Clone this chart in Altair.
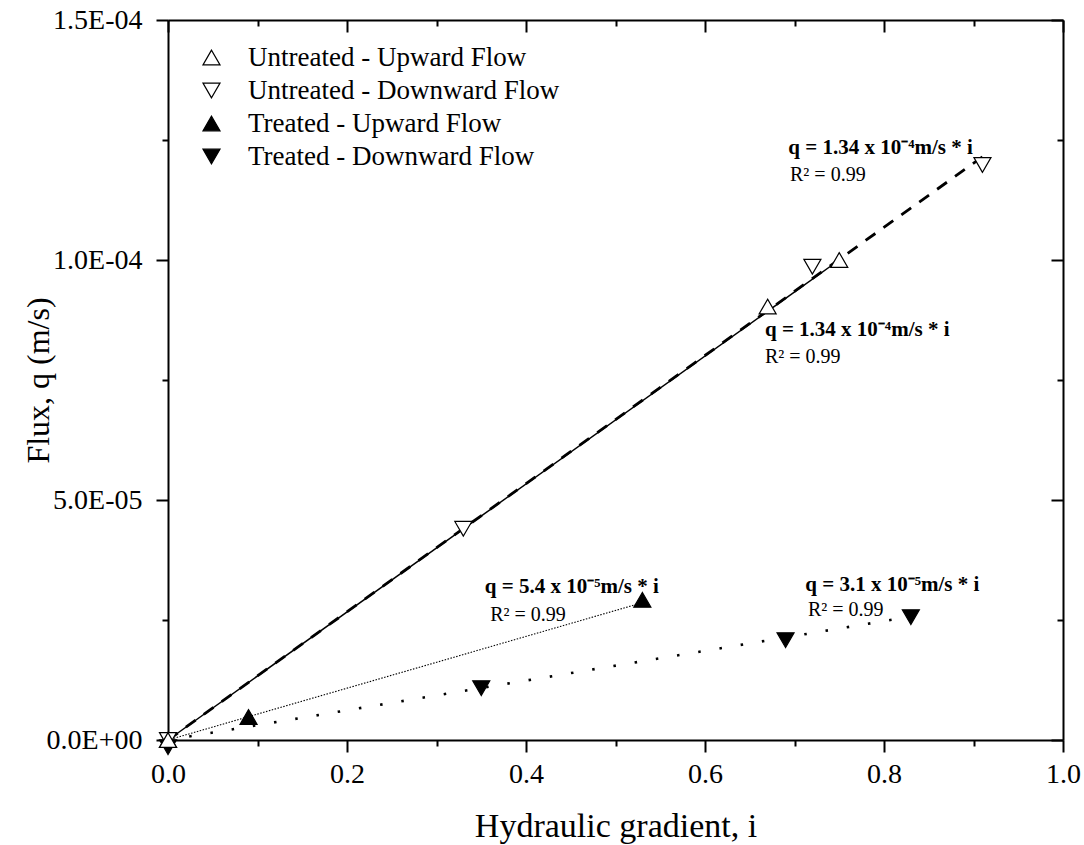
import altair as alt
import pandas as pd

FONT = "Liberation Serif"

series_names = ["Untreated - Upward Flow", "Untreated - Downward Flow",
                "Treated - Upward Flow", "Treated - Downward Flow"]
series_shapes = ["triangle-up", "triangle-down", "triangle-up", "triangle-down"]
series_fills = ["white", "white", "black", "black"]
series_strokes = ["black", "black", "black", "black"]

# measured points (i, q)
uu_i = [0.0, 0.67, 0.75]
uu_q = [0.0, 9.03e-5, 1.0e-4]
ud_i = [0.0, 0.33, 0.72, 0.91]
ud_q = [0.0, 4.4e-5, 9.86e-5, 1.198e-4]
tu_i = [0.0, 0.09, 0.53]
tu_q = [0.0, 4.8e-6, 2.92e-5]
td_i = [0.0, 0.35, 0.69, 0.83]
td_q = [-1.5e-6, 1.08e-5, 2.08e-5, 2.56e-5]

# fitted lines: start and end (i, q)
fit_i0 = [0.0, 0.0, 0.0, 0.0]
fit_q0 = [0.0, 0.0, 0.0, 0.0]
fit_i1 = [0.75, 0.91, 0.53, 0.83]
fit_q1 = [1.0e-4, 1.215e-4, 2.86e-5, 2.57e-5]

# annotation texts
eq_texts = ["q = 1.34 x 10⁻⁴m/s * i", "q = 1.34 x 10⁻⁴m/s * i",
            "q = 5.4 x 10⁻⁵m/s * i", "q = 3.1 x 10⁻⁵m/s  * i"]
eq_i = [0.693, 0.667, 0.354, 0.712]
eq_q = [1.233e-4, 8.54e-5, 3.19e-5, 3.23e-5]
r2_texts = ["R² = 0.99", "R² = 0.99", "R² = 0.99", "R² = 0.99"]
r2_i = [0.695, 0.667, 0.36, 0.715]
r2_q = [1.177e-4, 7.98e-5, 2.6e-5, 2.71e-5]

x_major = [0.0, 0.2, 0.4, 0.6, 0.8, 1.0]
x_minor = [0.1, 0.3, 0.5, 0.7, 0.9]
y_major = [0.0, 5.0e-5, 1.0e-4, 1.5e-4]
y_minor = [2.5e-5, 7.5e-5, 1.25e-4]

W, H = 895, 720

# ---------- tables ----------
rows = []
for name, xs_, qs_ in [(series_names[3], td_i, td_q), (series_names[2], tu_i, tu_q),
                       (series_names[1], ud_i, ud_q), (series_names[0], uu_i, uu_q)]:
    for a, b in zip(xs_, qs_):
        rows.append({"series": name, "i": a, "q": b})
pts = pd.DataFrame(rows)

xs = alt.Scale(domain=[0, 1], nice=False, zero=False)
ys = alt.Scale(domain=[0, 1.5e-4], nice=False, zero=False)

ylab = ("datum.value == 0 ? '0.0E+00' : "
        "format(datum.value / pow(10, floor(log(datum.value)/LN10 + 1e-9)), '.1f') + 'E' + "
        "(floor(log(datum.value)/LN10 + 1e-9) < 0 ? '-' : '+') + "
        "(abs(floor(log(datum.value)/LN10 + 1e-9)) < 10 ? '0' : '') + "
        "abs(floor(log(datum.value)/LN10 + 1e-9))")

common = dict(domainColor="black", tickColor="black", domainWidth=2, tickWidth=2,
              grid=False, labelFont=FONT, labelColor="black", titleFont=FONT,
              titleColor="black", titleFontWeight="normal")

ax_bottom_major = alt.Axis(orient="bottom", values=x_major, format=".1f", tickSize=12,
                           labelFontSize=28, labelPadding=8, labelFlush=False,
                           labelOverlap=False,
                           title="Hydraulic gradient, i", titleFontSize=34,
                           titleX=W / 2, titleY=86, titleBaseline="middle",
                           titleAlign="center", **common)
ax_bottom_minor = alt.Axis(orient="bottom", values=x_minor, tickSize=6, labels=False,
                           domain=False, title=None, **common)
ax_top_major = alt.Axis(orient="bottom", offset=-H, values=x_major, tickSize=12,
                        labels=False, title=None, **common)
ax_top_minor = alt.Axis(orient="bottom", offset=-H, values=x_minor, tickSize=6,
                        labels=False, domain=False, title=None, **common)

ax_left_major = alt.Axis(orient="left", values=y_major, labelExpr=ylab, tickSize=12,
                         labelFontSize=28, labelPadding=14, labelFlush=False,
                         labelOverlap=False,
                         title="Flux, q (m/s)", titleFontSize=32, titleX=-130,
                         titleY=H / 2, titleAngle=270, titleAlign="center",
                         titleBaseline="middle", **common)
ax_left_minor = alt.Axis(orient="left", values=y_minor, tickSize=6, labels=False,
                         domain=False, title=None, **common)
ax_right_major = alt.Axis(orient="left", offset=-W, values=y_major, tickSize=12,
                          labels=False, title=None, **common)
ax_right_minor = alt.Axis(orient="left", offset=-W, values=y_minor, tickSize=6,
                          labels=False, domain=False, title=None, **common)


def axis_layer(xa, ya):
    return alt.Chart(pts).mark_point(opacity=0).encode(
        x=alt.X("i:Q", scale=xs, axis=xa),
        y=alt.Y("q:Q", scale=ys, axis=ya),
    )


axes_layers = [
    axis_layer(ax_bottom_major, ax_left_major),
    axis_layer(ax_bottom_minor, ax_left_minor),
    axis_layer(ax_top_major, ax_right_major),
    axis_layer(ax_top_minor, ax_right_minor),
]

line_styles = [
    dict(strokeWidth=1.5),
    dict(strokeWidth=2.8, strokeDash=[12, 10]),
    dict(strokeWidth=1.1, strokeDash=[1.5, 1.5]),
    dict(strokeWidth=2.6, strokeDash=[2.5, 19]),
]

line_layers = []
for k in range(4):
    df = pd.DataFrame({"i": [fit_i0[k], fit_i1[k]], "q": [fit_q0[k], fit_q1[k]]})
    line_layers.append(
        alt.Chart(df).mark_line(color="black", **line_styles[k]).encode(
            x=alt.X("i:Q", scale=xs, axis=None),
            y=alt.Y("q:Q", scale=ys, axis=None),
        )
    )

leg = alt.Legend(title=None, orient="none", legendX=30, legendY=24,
                 labelFont=FONT, labelFontSize=27, labelColor="black",
                 labelOffset=23, rowPadding=5, padding=0,
                 symbolSize=290, symbolStrokeWidth=1.2, labelLimit=700)

points = alt.Chart(pts).mark_point(filled=True, strokeWidth=1.2, size=290,
                                   opacity=1).encode(
    x=alt.X("i:Q", scale=xs, axis=None),
    y=alt.Y("q:Q", scale=ys, axis=None),
    shape=alt.Shape("series:N", scale=alt.Scale(domain=series_names, range=series_shapes),
                    legend=leg),
    fill=alt.Fill("series:N", scale=alt.Scale(domain=series_names, range=series_fills),
                  legend=leg),
    stroke=alt.Stroke("series:N", scale=alt.Scale(domain=series_names, range=series_strokes),
                      legend=leg),
)

eq_df = pd.DataFrame({"t": eq_texts, "i": eq_i, "q": eq_q})
r2_df = pd.DataFrame({"t": r2_texts, "i": r2_i, "q": r2_q})

eqs = alt.Chart(eq_df).mark_text(align="left", baseline="middle", font=FONT, fontSize=21,
                                 fontWeight="bold", color="black").encode(
    x=alt.X("i:Q", scale=xs, axis=None), y=alt.Y("q:Q", scale=ys, axis=None), text="t:N")
r2s = alt.Chart(r2_df).mark_text(align="left", baseline="middle", font=FONT, fontSize=20,
                                 color="black").encode(
    x=alt.X("i:Q", scale=xs, axis=None), y=alt.Y("q:Q", scale=ys, axis=None), text="t:N")

chart = alt.layer(*axes_layers, *line_layers, points, eqs, r2s).resolve_axis(
    x="independent", y="independent"
).properties(
    width=W, height=H,
    autosize=alt.AutoSizeParams(type="none"),
    padding={"left": 168, "top": 20, "right": 21, "bottom": 105},
    background="white",
).configure_view(stroke=None)

chart.save("out.html", embed_options={"renderer": "svg", "actions": False})
